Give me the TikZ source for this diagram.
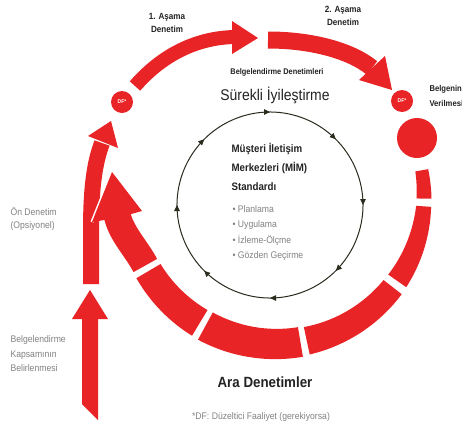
\documentclass[tikz,border=0pt]{standalone}
\usepackage{fontspec}
\setmainfont{Liberation Sans}[FakeStretch=0.9]
\usetikzlibrary{arrows.meta,decorations.markings}
\definecolor{ired}{RGB}{232,36,38}
\definecolor{dtext}{RGB}{35,35,35}
\definecolor{gtext}{RGB}{130,130,130}
\definecolor{cyc}{RGB}{40,45,30}
\newcommand\ringseg[4]{%
  \fill[ired] plot[domain=#1:#2, samples=40]
    ({276+(148+(#3+(#4-#3)*(\x-#1)/(#2-#1))/2)*cos(\x)},
     {196+(148+(#3+(#4-#3)*(\x-#1)/(#2-#1))/2)*sin(\x)})
    -- plot[domain=#2:#1, samples=40]
    ({276+(148-(#3+(#4-#3)*(\x-#1)/(#2-#1))/2)*cos(\x)},
     {196+(148-(#3+(#4-#3)*(\x-#1)/(#2-#1))/2)*sin(\x)}) -- cycle;}
\begin{document}
\begin{tikzpicture}[x=1pt,y=-1pt,
  shaft/.style={draw=ired, line cap=butt},
  head/.style={fill=ired},
  dfc/.style={circle, fill=ired, minimum size=22pt, inner sep=0pt, text=white,
    font=\bfseries\fontsize{5.5}{6}\selectfont},
  bigdot/.style={circle, fill=ired, minimum size=40pt, inner sep=0pt},
  stagetxt/.style={text=dtext, align=center, font=\bfseries\fontsize{9}{13}\selectfont},
  smalltxt/.style={text=dtext, align=left, font=\bfseries\fontsize{8.5}{15}\selectfont},
  greytxt/.style={text=gtext, align=left, font=\fontsize{9.5}{13.5}\selectfont},
  bigtxt/.style={text=dtext, font=\bfseries\fontsize{14.8}{17}\selectfont},
  cycle line/.style={draw=cyc, line width=1pt,
    postaction={decorate},
    decoration={markings,
      mark=between positions 0.0625 and 1 step 0.125 with {\arrow{Triangle[length=6pt,width=5.5pt]}}}}
]
\useasboundingbox[fill=white] (0,0) rectangle (462,434);

% inner cycle
\coordinate (O) at (270,205);
\draw[cycle line] ([shift={(-112.5:93)}]O) arc[start angle=-112.5, end angle=247.5, radius=93];

% ring segments
\ringseg{-10}{1}{13}{15}
\ringseg{4}{35}{15}{22}
\ringseg{38}{78}{23}{28}
\ringseg{80.5}{118.5}{30}{31}
\ringseg{121}{149.5}{30}{28}

% bottom up arrow
\coordinate (b0) at (90,412);
\coordinate (b1) at (90,317);
\coordinate (btip) at (90,290);
\fill[ired] (82,404) -- (98,420) -- (98,316) -- (82,316) -- cycle;
\fill[head] (btip) -- (72,319) -- (108,319) -- cycle;

% DF circles and certificate dot
\node[dfc] (df1) at (122,102) {DF*};
\node[dfc] (df2) at (402,101) {DF*};
\node[bigdot] (cert) at (417,138) {};

% left shaft to df1
\coordinate (l0) at (91,284);
\coordinate (l1) at (102,143);
\coordinate (ltip) at (111,121);
\draw[shaft, line width=16] (l0) -- (91,230) .. controls (91,185) and (95,162) .. (l1);
\fill[head] (ltip) -- (88,136) -- (118,148) -- cycle;

% ring last segment with arrowhead
\coordinate (r0) at ([shift={(152:148)}]276,196);
\coordinate (rb) at (117,214);
\coordinate (rtip) at (112,172);
\draw[shaft, line width=27] (r0) .. controls (136,248) and (120,232) .. (rb);
\draw[white, line width=3, line join=miter] (92,222) -- (rtip) -- (142,211);
\fill[head] (rtip) -- (92,222) -- (117,218) -- (142,211) -- cycle;

% top arc 1
\coordinate (t0) at (135,86);
\coordinate (t1) at (234,37);
\coordinate (t1tip) at (258,38);
\draw[shaft, line width=14] (t0) .. controls (162,55) and (196,38) .. (t1);
\fill[head] (t1tip) -- (232,21) -- (232,54) -- cycle;

% top arc 2
\coordinate (s0) at (268,40);
\coordinate (s1) at (372,68);
\coordinate (s1tip) at (392,90);
\draw[shaft, line width=17] (s0) .. controls (310,40) and (350,50) .. (s1);
\fill[head] (s1tip) -- (385,56) -- (359,80) -- cycle;

% texts
\node[stagetxt] (st1) at (167,23) {1. Aşama\\Denetim};
\node[stagetxt] (st2) at (343,16) {2. Aşama\\Denetim};
\node[text=dtext, font=\bfseries\fontsize{8.2}{9}\selectfont] (bd) at (277,72) {Belgelendirme Denetimleri};
\node[text=dtext, font=\fontsize{15.5}{17}\selectfont] (si) at (275,95) {Sürekli İyileştirme};
\node[smalltxt, anchor=north west, font=\bfseries\fontsize{10.8}{19}\selectfont] (mim) at (228,140) {Müşteri İletişim\\Merkezleri (MİM)\\Standardı};
\node[greytxt, anchor=north west, font=\fontsize{9.6}{15.5}\selectfont] (pl) at (229,202) {• Planlama\\• Uygulama\\• İzleme-Ölçme\\• Gözden Geçirme};
\node[smalltxt, anchor=west] (bv) at (426,96) {Belgenin\\Verilmesi};
\node[greytxt, anchor=west, font=\fontsize{9.6}{13}\selectfont] (od) at (7,219) {Ön Denetim\\(Opsiyonel)};
\node[greytxt, anchor=west, font=\fontsize{9.6}{14.5}\selectfont] (bk) at (7,354) {Belgelendirme\\Kapsamının\\Belirlenmesi};
\node[bigtxt] (ad) at (265,382) {Ara Denetimler};
\node[text=gtext, font=\fontsize{9.6}{11}\selectfont] (fn) at (261,417) {*DF: Düzeltici Faaliyet (gerekiyorsa)};
\end{tikzpicture}
\end{document}
